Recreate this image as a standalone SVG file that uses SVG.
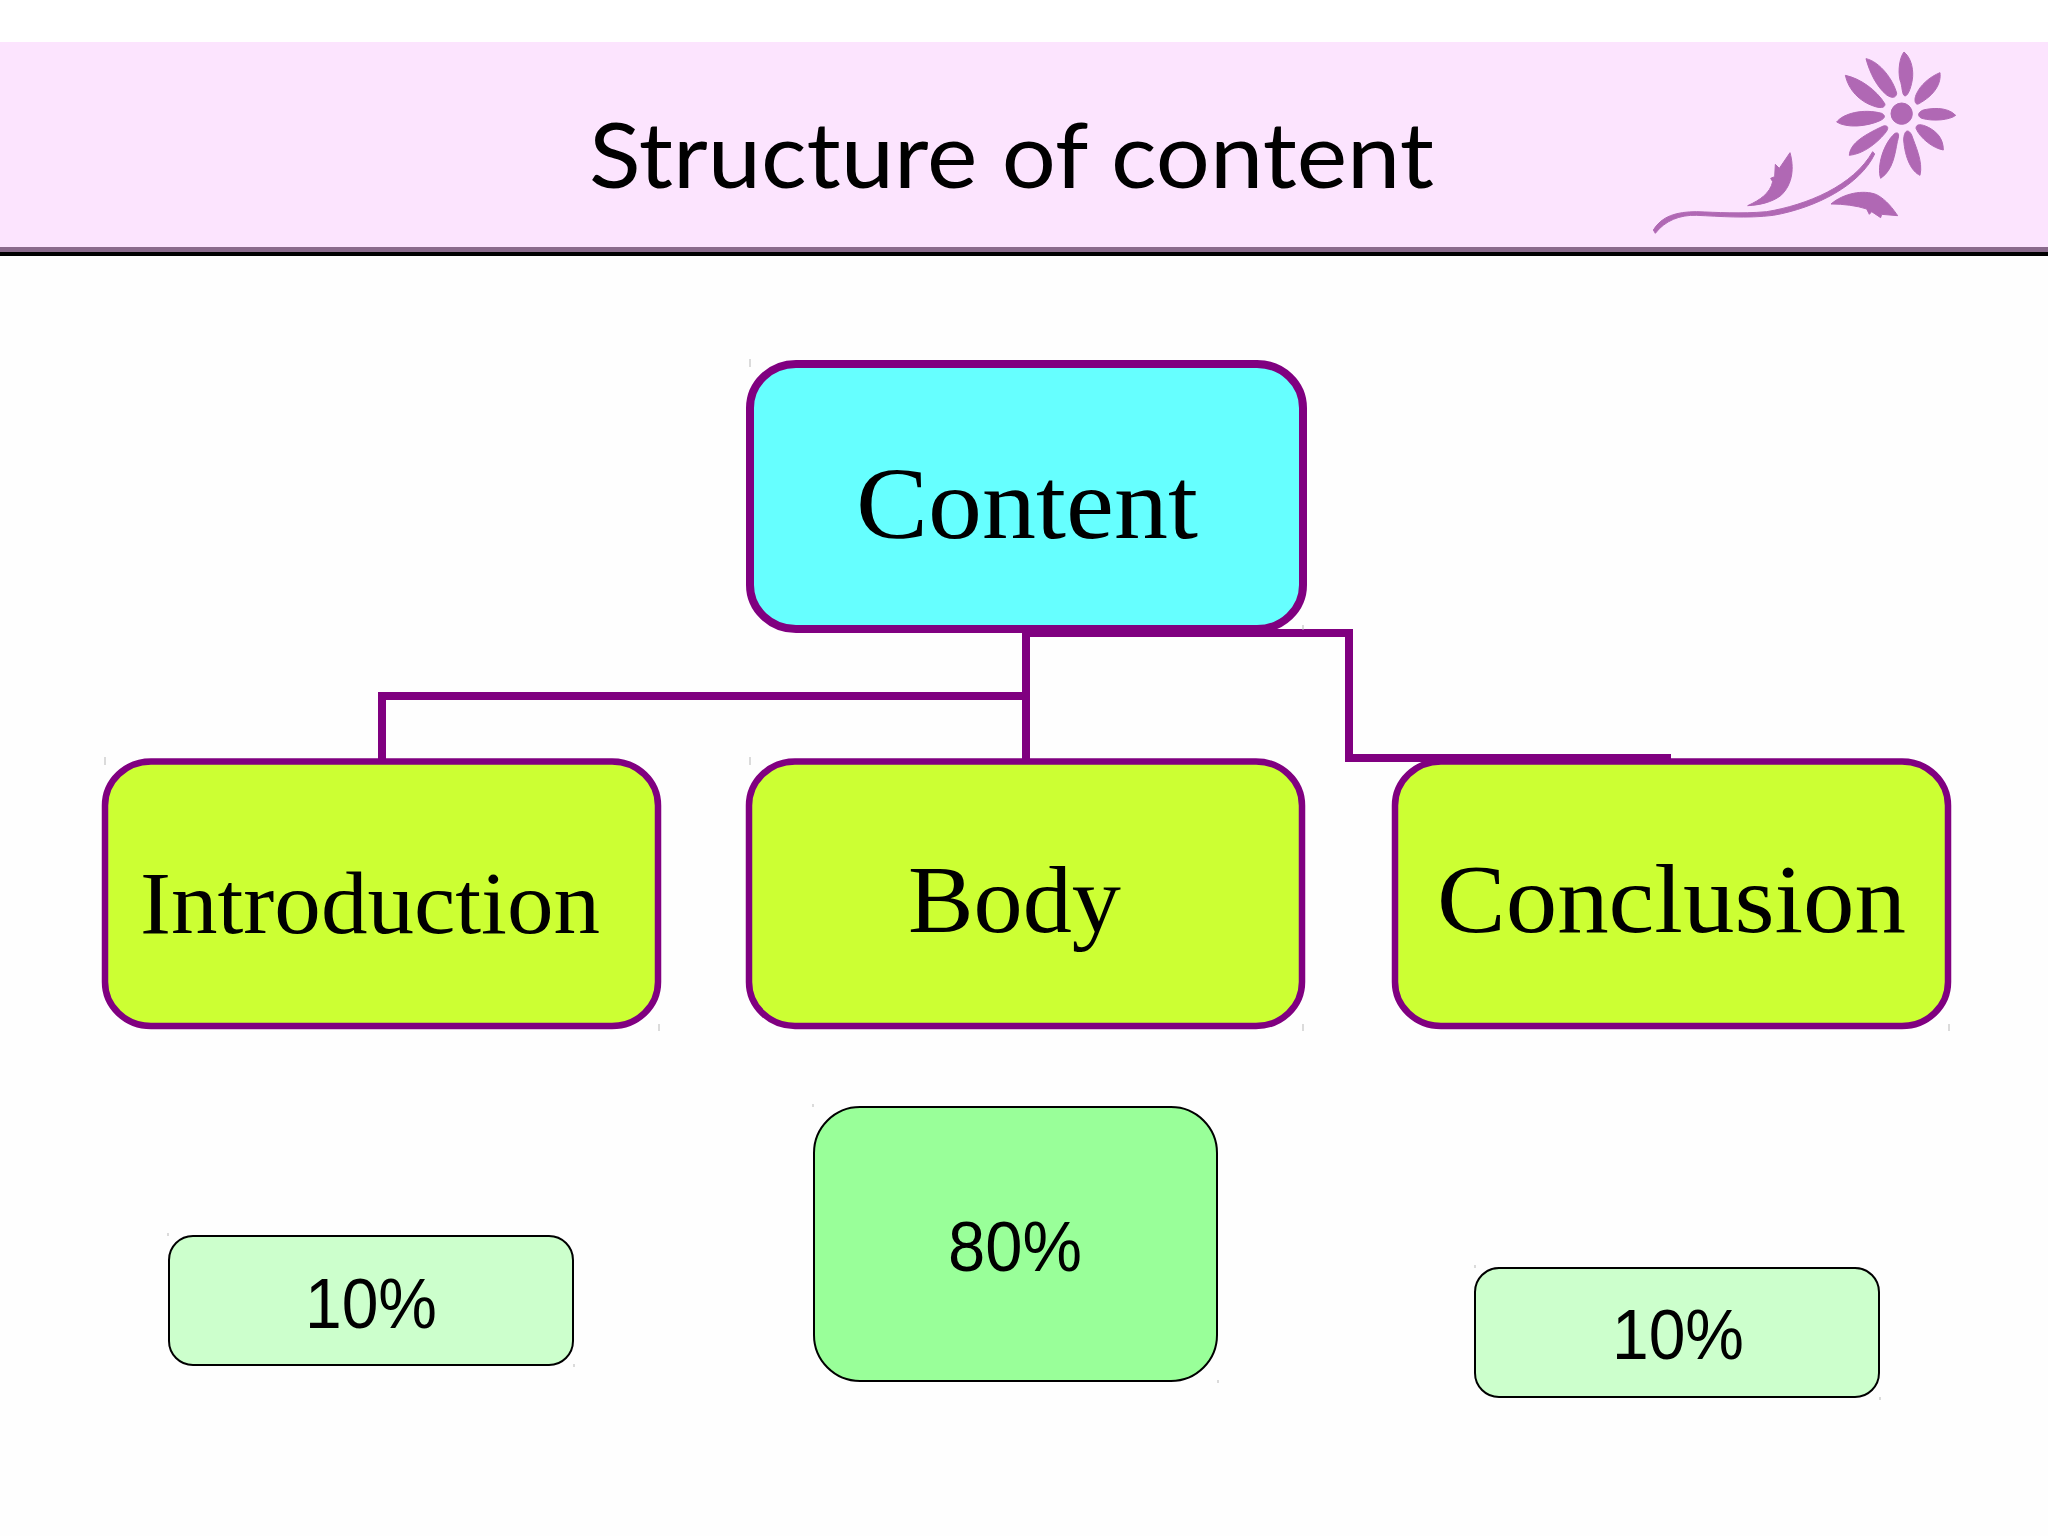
<svg xmlns="http://www.w3.org/2000/svg" width="2048" height="1536" viewBox="0 0 2048 1536">
<style>
.head{fill:#66ffff;stroke:#800080;stroke-width:8}
.part{fill:#ccff33;stroke:#800080;stroke-width:6.5}
.small{fill:#ccffcc;stroke:#000;stroke-width:2}
.big{fill:#99ff99;stroke:#000;stroke-width:2}
.serif{font-family:"Liberation Serif",serif;fill:#000}
.sans{font-family:"Liberation Sans",Arial,sans-serif;fill:#000;font-size:70px}
.conn{fill:none;stroke:#800080;stroke-width:8}
.petal{fill:#b068b4;stroke:#b068b4;stroke-width:3;stroke-linejoin:round}
</style>
<rect width="2048" height="1536" fill="#fefefe"/>
<rect width="2048" height="42" fill="#fff"/>
<g id="banner">
<rect y="42" width="2048" height="205" fill="#fce4fe"/>
<rect y="247" width="2048" height="5" fill="#8a6a8c"/>
<rect y="252" width="2048" height="4" fill="#000"/>
<text x="589" y="188" font-family="Lato,sans-serif" font-size="92" textLength="845" lengthAdjust="spacingAndGlyphs" fill="#000">Structure of content</text>
</g>
<g id="flower" class="petal" transform="translate(1600 30) scale(.33333)">
<path d="M912 66C930 80 940 110 938 140C936 165 925 198 915 198C905 195 908 170 900 150C893 120 900 80 912 66Z"/>
<path d="M1020 128C1024 160 1005 195 955 222C945 225 942 210 948 195C960 165 990 140 1020 128Z"/>
<path d="M1067 256C1050 270 1000 275 965 265C950 258 955 245 970 240C990 235 1040 228 1067 256Z"/>
<path d="M1030 360C1000 355 960 325 948 295C948 280 965 282 985 292C1010 305 1030 325 1030 360Z"/>
<path d="M960 436C935 425 915 385 911 330C912 300 925 295 935 315C945 345 970 395 960 436Z"/>
<path d="M842 445C830 410 850 340 885 310C898 305 898 315 892 335C885 370 880 420 842 445Z"/>
<path d="M748 376C750 345 780 320 850 288C865 285 868 295 855 310C830 340 790 372 748 376Z"/>
<path d="M710 276C730 250 790 235 845 250C858 257 855 265 840 272C800 290 740 295 710 276Z"/>
<path d="M736 136C780 145 830 180 855 222C855 235 840 235 820 228C780 215 745 180 736 136Z"/>
<path d="M798 86C840 95 880 150 890 190C888 205 875 205 860 195C830 170 810 130 798 86Z"/>
<circle cx="905" cy="251" r="32"/>
<path d="M160 600C185 558 230 545 290 545C350 547 420 552 500 545C620 525 760 468 818 365L824 372C780 465 650 533 520 556C440 566 360 559 290 556C240 554 195 572 166 610Z"/>
<path d="M570 368C582 410 580 462 542 497C515 517 480 525 443 527C480 510 510 490 518 455L512 445L524 440L526 403L538 415Z"/>
<path d="M693 522C730 490 790 478 830 494C860 510 880 538 893 557L845 553L842 563L815 545L808 553L800 537C770 527 730 522 693 522Z"/>
</g>
<g id="node-content">
<rect class="head" x="750" y="364" width="553" height="265" rx="46" ry="44"/>
<text class="serif" x="856" y="538" font-size="102" textLength="342" lengthAdjust="spacingAndGlyphs">Content</text>
</g>
<g id="node-introduction">
<rect class="part" x="105" y="761.5" width="553" height="264.5" rx="46" ry="44"/>
<text class="serif" x="140" y="933" font-size="89" textLength="460" lengthAdjust="spacingAndGlyphs">Introduction</text>
</g>
<g id="node-body">
<rect class="part" x="749" y="761.5" width="553" height="264.5" rx="46" ry="44"/>
<text class="serif" x="908" y="932" font-size="96" textLength="213" lengthAdjust="spacingAndGlyphs">Body</text>
</g>
<g id="node-conclusion">
<rect class="part" x="1395" y="761.5" width="553" height="264.5" rx="46" ry="44"/>
<text class="serif" x="1437" y="932" font-size="98" textLength="469" lengthAdjust="spacingAndGlyphs">Conclusion</text>
</g>
<g id="node-10-left">
<rect class="small" x="169" y="1236" width="404" height="129" rx="24" ry="24"/>
<text class="sans" x="305" y="1328" textLength="132" lengthAdjust="spacingAndGlyphs">10%</text>
</g>
<g id="node-80">
<rect class="big" x="814" y="1107" width="403" height="274" rx="46" ry="46"/>
<text class="sans" x="948" y="1271" textLength="134" lengthAdjust="spacingAndGlyphs">80%</text>
</g>
<g id="node-10-right">
<rect class="small" x="1475" y="1268" width="404" height="129" rx="24" ry="24"/>
<text class="sans" x="1612" y="1359" textLength="132" lengthAdjust="spacingAndGlyphs">10%</text>
</g>
<g id="connectors">
<path class="conn" d="M1026 632V760"/>
<path class="conn" d="M1022 696H382V760"/>
<path class="conn" d="M1026 633H1349V758H1671"/>
</g>
<path id="ticks" fill="none" stroke="#b8b8b8" stroke-width="1" d="M105 757v8M750 757v8M750 359v8M659 1024v7M1303 1024v7M1303 625v5M1949 1024v7M168 1233v3M574 1364v3M813 1104v3M1218 1380v3M1475 1265v3M1880 1397v3"/>
</svg>
